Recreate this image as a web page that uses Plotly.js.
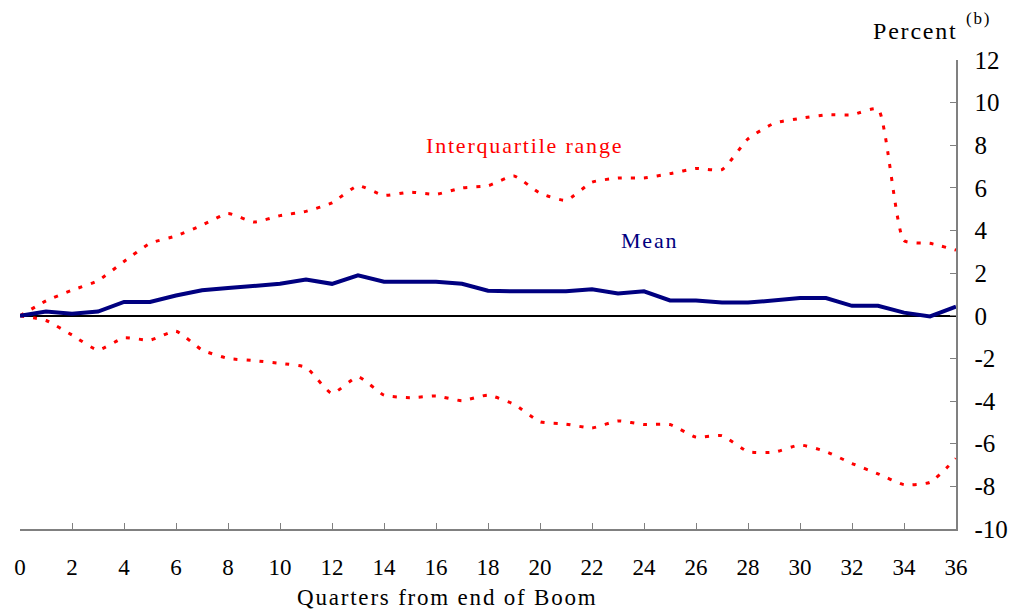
<!DOCTYPE html>
<html>
<head>
<meta charset="utf-8">
<script src="https://cdn.plot.ly/plotly-3.0.1.min.js"></script>
<style>
  html, body { margin: 0; padding: 0; background: #fff; }
  #plot { width: 1013px; height: 611px; }
  /* the original text is set a little looser than Liberation Serif */
  .annotation-text { letter-spacing: 1.8px; }
</style>
</head>
<body>
<div id="plot"></div>
<script>
// Quarters from the end of the boom
let quarters = [];
for (let q = 0; q <= 36; q++) quarters.push(q);

// Mean change, per cent
let meanValues = [0, 0.2, 0.1, 0.2, 0.65, 0.65, 0.95, 1.2, 1.3, 1.4, 1.5, 1.7, 1.5, 1.9, 1.6, 1.6,
  1.6, 1.5, 1.18, 1.15, 1.15, 1.15, 1.25, 1.05, 1.15, 0.72, 0.72, 0.62, 0.62, 0.72, 0.83, 0.83,
  0.47, 0.47, 0.15, -0.03, 0.43];

// Upper quartile
let upperValues = [0, 0.7, 1.2, 1.65, 2.55, 3.4, 3.75, 4.25, 4.8, 4.4, 4.7, 4.9, 5.3, 6.1, 5.65, 5.8,
  5.7, 6.0, 6.1, 6.56, 5.75, 5.42, 6.27, 6.46, 6.47, 6.67, 6.91, 6.86, 8.3, 9.03, 9.26, 9.43,
  9.43, 9.7, 3.53, 3.4, 3.08];

// Lower quartile
let lowerValues = [0, -0.22, -0.9, -1.6, -1.03, -1.14, -0.72, -1.6, -2.0, -2.1, -2.23, -2.42, -3.64, -2.86, -3.72, -3.84,
  -3.76, -3.98, -3.72, -4.15, -4.97, -5.08, -5.26, -4.93, -5.1, -5.1, -5.69, -5.62, -6.37, -6.4, -6.06, -6.37,
  -6.93, -7.41, -7.92, -7.81, -6.69];

let xTicks = [0, 2, 4, 6, 8, 10, 12, 14, 16, 18, 20, 22, 24, 26, 28, 30, 32, 34, 36];
let yTicks = [-10, -8, -6, -4, -2, 0, 2, 4, 6, 8, 10, 12];

let serif = "Liberation Serif, Times New Roman, serif";

let traceUpper = {
  x: quarters,
  y: upperValues,
  type: "scatter",
  mode: "lines",
  line: {color: "#ff0000", width: 3, dash: "4px,9px", shape: "spline", smoothing: 0.5},
  hoverinfo: "skip"
};

let traceLower = {
  x: quarters,
  y: lowerValues,
  type: "scatter",
  mode: "lines",
  line: {color: "#ff0000", width: 3, dash: "4px,9px", shape: "spline", smoothing: 0.5},
  hoverinfo: "skip"
};

let traceMean = {
  x: quarters,
  y: meanValues,
  type: "scatter",
  mode: "lines",
  line: {color: "#000080", width: 4},
  hoverinfo: "skip"
};

let layout = {
  width: 1013,
  height: 611,
  margin: {l: 20, r: 57, t: 60, b: 82},
  paper_bgcolor: "#fff",
  plot_bgcolor: "#fff",
  showlegend: false,
  font: {family: serif, size: 22, color: "#000"},
  xaxis: {
    range: [0, 36],
    tickvals: xTicks,
    ticktext: xTicks.map(String),
    ticks: "inside",
    ticklen: 6,
    tickcolor: "#808080",
    showline: true,
    linecolor: "#808080",
    linewidth: 1.5,
    showgrid: false,
    zeroline: false,
    ticklabelstandoff: 17,
    tickfont: {family: serif, size: 23}
  },
  yaxis: {
    range: [-10, 12],
    side: "right",
    tickvals: yTicks,
    ticktext: yTicks.map(String),
    ticks: "inside",
    ticklen: 6,
    tickcolor: "#808080",
    showline: true,
    linecolor: "#808080",
    linewidth: 1.5,
    showgrid: false,
    zeroline: true,
    zerolinecolor: "#000",
    zerolinewidth: 2,
    ticklabelstandoff: 12,
    tickfont: {family: serif, size: 25}
  },
  annotations: [
    {x: 19.4, y: 8.0, xref: "x", yref: "y", text: "Interquartile range", showarrow: false,
     font: {family: serif, size: 22, color: "#ff0000"}},
    {x: 24.2, y: 3.53, xref: "x", yref: "y", text: "Mean", showarrow: false,
     font: {family: serif, size: 22, color: "#000080"}},
    {x: 0.457, y: -0.147, xref: "paper", yref: "paper", yanchor: "middle",
     text: "Quarters from end of Boom", showarrow: false, font: {family: serif, size: 23}},
    {x: 1.0043, y: 1.062, xref: "paper", yref: "paper", xanchor: "right", yanchor: "middle",
     text: "Percent", showarrow: false, font: {family: serif, size: 24}},
    {x: 1.0085, y: 1.088, xref: "paper", yref: "paper", xanchor: "left", yanchor: "middle",
     text: "(b)", showarrow: false, font: {family: serif, size: 17}}
  ]
};

Plotly.newPlot("plot", [traceUpper, traceLower, traceMean], layout, {staticPlot: true});
</script>
</body>
</html>
